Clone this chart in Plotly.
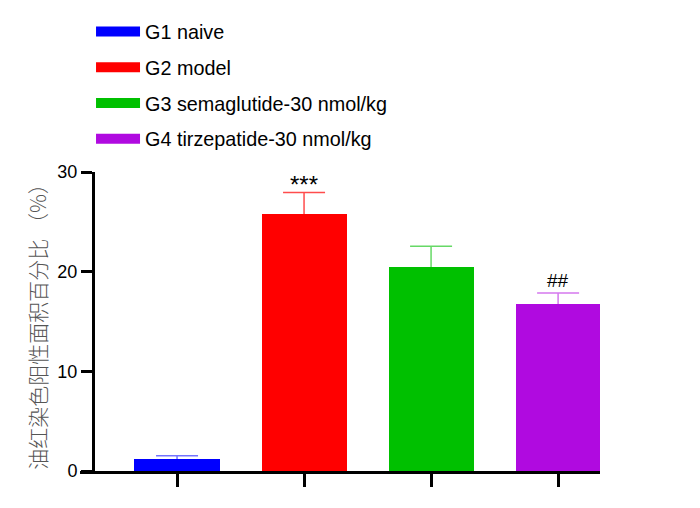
import plotly.graph_objects as go

groups = ["G1 naive", "G2 model", "G3 semaglutide-30 nmol/kg", "G4 tirzepatide-30 nmol/kg"]
means = [1.2, 25.8, 20.45, 16.75]
sems = [0.33, 2.15, 2.1, 1.12]
marks = ["", "***", "", "##"]
bar_colors = ["#0000ff", "#ff0000", "#00c000", "#b00ae0"]
err_colors = ["rgba(0,0,255,0.55)", "rgba(255,0,0,0.7)", "rgba(0,192,0,0.6)", "rgba(176,10,224,0.55)"]
mark_size = {"***": 24, "##": 19}
mark_shift = {"***": -8, "##": 0}

fig = go.Figure()

for i, g in enumerate(groups):
    # error bars on the base axes, bars on the overlay so the lower half is hidden
    fig.add_trace(go.Scatter(
        x=[i], y=[means[i]], mode="markers", marker=dict(size=1, opacity=0),
        error_y=dict(type="data", array=[sems[i]], color=err_colors[i], thickness=1.5, width=21),
        showlegend=False, hoverinfo="skip",
    ))
    fig.add_trace(go.Bar(
        x=[i], y=[means[i]], width=0.67, xaxis="x2", yaxis="y2",
        marker=dict(color=bar_colors[i], line=dict(width=0)),
        showlegend=False,
    ))
    # legend proxy (wide colour swatch like the original)
    fig.add_trace(go.Scatter(
        x=[None], y=[None], mode="lines", name=g,
        line=dict(color=bar_colors[i], width=10),
        legendgroup=g,
    ))
    if marks[i]:
        fig.add_annotation(x=i, y=means[i] + sems[i], text=marks[i], showarrow=False,
                           yanchor="bottom", yshift=mark_shift[marks[i]],
                           font=dict(family="Liberation Sans, Arial", size=mark_size[marks[i]], color="black"))

xr = [-0.764, 3.33]
# page body adds 8px, so margins are pulled in by 8px
fig.update_layout(
    width=700, height=508,
    margin=dict(l=72, r=108, t=164, b=45, autoexpand=False),
    plot_bgcolor="white", paper_bgcolor="white",
    bargap=0,
    legend=dict(x=0.0212, y=0.992, xref="paper", yref="container", xanchor="left", yanchor="top",
                font=dict(family="Liberation Sans, Arial", size=19.8, color="black"),
                tracegroupgap=7, itemwidth=44, bgcolor="rgba(0,0,0,0)"),
    xaxis=dict(range=xr, showgrid=False, zeroline=False, showline=True,
               linecolor="black", linewidth=3, ticks="outside", ticklen=13, tickwidth=3,
               tickcolor="black", tickvals=[0, 1, 2, 3], showticklabels=False, fixedrange=True),
    xaxis2=dict(range=xr, overlaying="x", visible=False),
    yaxis=dict(range=[0, 30], showgrid=False, zeroline=False, showline=True,
               linecolor="black", linewidth=3, ticks="outside", ticklen=11, tickwidth=3,
               tickcolor="black", tickvals=[0, 10, 20, 30], anchor="free", position=0.025,
               automargin=False,
               tickfont=dict(family="Liberation Sans, Arial", size=18, color="black"),
               title=dict(text="油红染色阳性面积百分比 （%）", standoff=4,
                          font=dict(family="Noto Sans CJK SC", size=21, color="#555555", weight=300))),
    yaxis2=dict(range=[0, 30], overlaying="y", visible=False),
)

fig.write_html("out.html")
